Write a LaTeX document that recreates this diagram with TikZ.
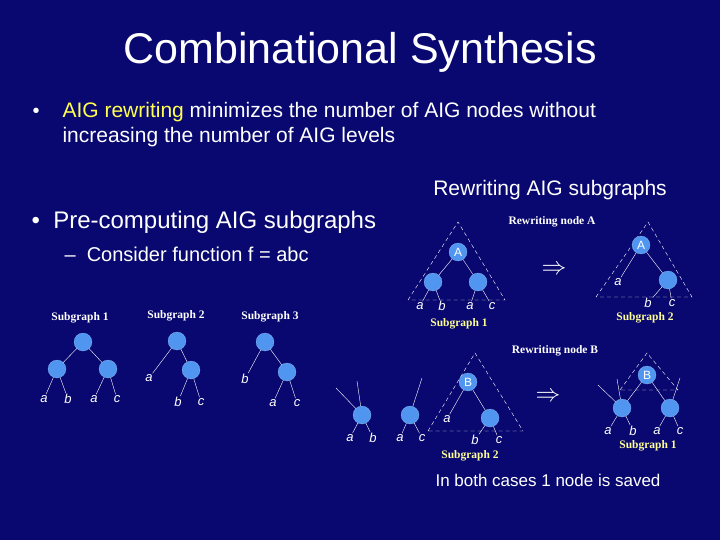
\documentclass[tikz,border=0pt]{standalone}
\usepackage{fontspec}
\setmainfont{Liberation Sans}
\newfontfamily\serifbf{Liberation Serif}
\usetikzlibrary{positioning}
\definecolor{navy}{RGB}{8,8,112}
\definecolor{aigblue}{RGB}{80,150,240}
\definecolor{hiyellow}{RGB}{255,255,80}
\definecolor{sgyellow}{RGB}{255,255,150}
\tikzset{
    % AIG node
    aig/.style={
           circle,
           fill=aigblue,
           draw=aigblue!60!white, very thin,
           minimum size=18pt,
           inner sep=0pt,
           text=white,
           font=\fontsize{12}{12}\selectfont},
    % literal at a leaf
    lit/.style={
           inner sep=1pt,
           text=white,
           font=\fontsize{13}{13}\itshape},
    % subgraph caption
    sg/.style={
           font=\serifbf\bfseries\fontsize{11.5}{12}\selectfont},
    % dashed cut
    cut/.style={
           white, thin, dash pattern=on 4pt off 3pt},
    wire/.style={white, thin}
}
\begin{document}
\begin{tikzpicture}[x=1pt,y=-1pt]
\fill[navy] (0,0) rectangle (720,540);
\useasboundingbox (0,0) rectangle (720,540);
% title and bullets
\node[text=white,font=\fontsize{43}{43}\selectfont] (title) at (360,52) {Combinational Synthesis};
\node[text=white,anchor=west,font=\fontsize{20}{20}\selectfont] (b1) at (29,113) {\textbullet};
\node[text=white,anchor=west,align=left,font=\fontsize{21}{25}\selectfont] (t1) at (59,125)
  {\textcolor{hiyellow}{AIG rewriting} minimizes the number of AIG nodes without\\increasing the number of AIG levels};
\node[text=white,font=\fontsize{21}{21}\selectfont] (rw) at (550,190) {Rewriting AIG subgraphs};
\node[text=white,anchor=west,font=\fontsize{24}{24}\selectfont] (t2) at (28,222) {\textbullet\ \ Pre-computing AIG subgraphs};
\node[text=white,anchor=west,font=\fontsize{20}{20}\selectfont] (t3) at (61,254) {--\ \ Consider function f = abc};

% left: three subgraphs
\node[sg,text=white] (s1) at (80,318) {Subgraph 1};
\node[aig] (s1r) at (83,342) {};
\node[aig] (s1l) at (57,369) {};
\node[aig] (s1m) at (108,369) {};
\node[lit] (s1a) at (44,399) {a};
\node[lit] (s1b) at (68,399) {b};
\node[lit] (s1c) at (94,399) {a};
\node[lit] (s1d) at (117,399) {c};
\draw[wire] (s1r)--(s1l) (s1r)--(s1m) (s1l)--(s1a) (s1l)--(s1b) (s1m)--(s1c) (s1m)--(s1d);

\node[sg,text=white] (s2) at (176,316) {Subgraph 2};
\node[aig] (s2r) at (177,341) {};
\node[aig] (s2m) at (191,370) {};
\node[lit] (s2a) at (149,378) {a};
\node[lit] (s2b) at (178,402) {b};
\node[lit] (s2c) at (201,402) {c};
\draw[wire] (s2r)--(s2a) (s2r)--(s2m) (s2m)--(s2b) (s2m)--(s2c);

\node[sg,text=white] (s3) at (270,317) {Subgraph 3};
\node[aig] (s3r) at (265,342) {};
\node[aig] (s3m) at (287,372) {};
\node[lit] (s3a) at (245,379) {b};
\node[lit] (s3b) at (273,403) {a};
\node[lit] (s3c) at (297,403) {c};
\draw[wire] (s3r)--(s3a) (s3r)--(s3m) (s3m)--(s3b) (s3m)--(s3c);

% rewriting node A
\node[sg,text=white] (ra) at (552,222) {Rewriting node A};
\draw[cut] (408,300) -- (458,222) -- (505,300) -- cycle;
\node[aig] (a1) at (458,252) {A};
\node[aig] (a1l) at (433,282) {};
\node[aig] (a1m) at (478,282) {};
\node[lit] (a1a) at (420,306) {a};
\node[lit] (a1b) at (442,306) {b};
\node[lit] (a1c) at (470,306) {a};
\node[lit] (a1d) at (492,306) {c};
\draw[wire] (a1)--(a1l) (a1)--(a1m) (a1l)--(a1a) (a1l)--(a1b) (a1m)--(a1c) (a1m)--(a1d);
\node[sg,text=sgyellow] (a1s) at (459,324) {Subgraph 1};
\node[text=white,font=\fontsize{24}{24}\selectfont] (arA) at (554,270) {$\Rightarrow$};
\draw[cut] (596,297) -- (648,222) -- (692,297) -- cycle;
\node[aig] (a2) at (641,245) {A};
\node[aig] (a2m) at (668,280) {};
\node[lit] (a2a) at (618,282) {a};
\node[lit] (a2b) at (648,303) {b};
\node[lit] (a2c) at (672,303) {c};
\draw[wire] (a2)--(a2a) (a2)--(a2m) (a2m)--(a2b) (a2m)--(a2c);
\node[sg,text=sgyellow] (a2s) at (645,318) {Subgraph 2};

% rewriting node B
\node[sg,text=white] (rb) at (555,351) {Rewriting node B};
\coordinate (f1) at (336,388);
\coordinate (f2) at (357,381);
\coordinate (f3) at (422,378);
\node[aig] (b0) at (362,415) {};
\node[aig] (b0m) at (410,415) {};
\node[lit] (b0a) at (350,438) {a};
\node[lit] (b0b) at (373,438) {b};
\node[lit] (b0c) at (400,438) {a};
\node[lit] (b0d) at (422,438) {c};
\draw[wire] (b0)--(f1) (b0)--(f2) (b0m)--(f3) (b0)--(b0a) (b0)--(b0b) (b0m)--(b0c) (b0m)--(b0d);
\draw[cut] (428,431) -- (475,353) -- (523,431) -- cycle;
\node[aig] (b1) at (468,382) {B};
\node[aig] (b1m) at (490,418) {};
\node[lit] (b1a) at (447,419) {a};
\node[lit] (b1b) at (475,440) {b};
\node[lit] (b1c) at (499,440) {c};
\draw[wire] (b1)--(b1a) (b1)--(b1m) (b1m)--(b1b) (b1m)--(b1c);
\node[sg,text=sgyellow] (b1s) at (470,456) {Subgraph 2};
\node[text=white,font=\fontsize{24}{24}\selectfont] (arB) at (548,397) {$\Rightarrow$};
\draw[cut] (620,390) -- (647,353) -- (678,390) -- cycle;
\coordinate (g1) at (598,385);
\coordinate (g2) at (617,379);
\coordinate (g3) at (680,378);
\node[aig] (b2) at (647,375) {B};
\node[aig] (b2l) at (622,408) {};
\node[aig] (b2m) at (670,408) {};
\node[lit] (b2a) at (608,431) {a};
\node[lit] (b2b) at (633,431) {b};
\node[lit] (b2c) at (657,431) {a};
\node[lit] (b2d) at (680,431) {c};
\draw[wire] (b2)--(b2l) (b2)--(b2m) (b2l)--(g1) (b2l)--(g2) (b2m)--(g3)
  (b2l)--(b2a) (b2l)--(b2b) (b2m)--(b2c) (b2m)--(b2d);
\node[sg,text=sgyellow] (b2s) at (648,446) {Subgraph 1};
\node[text=white,font=\fontsize{17}{17}\selectfont] (save) at (548,480) {In both cases 1 node is saved};
\end{tikzpicture}
\end{document}
